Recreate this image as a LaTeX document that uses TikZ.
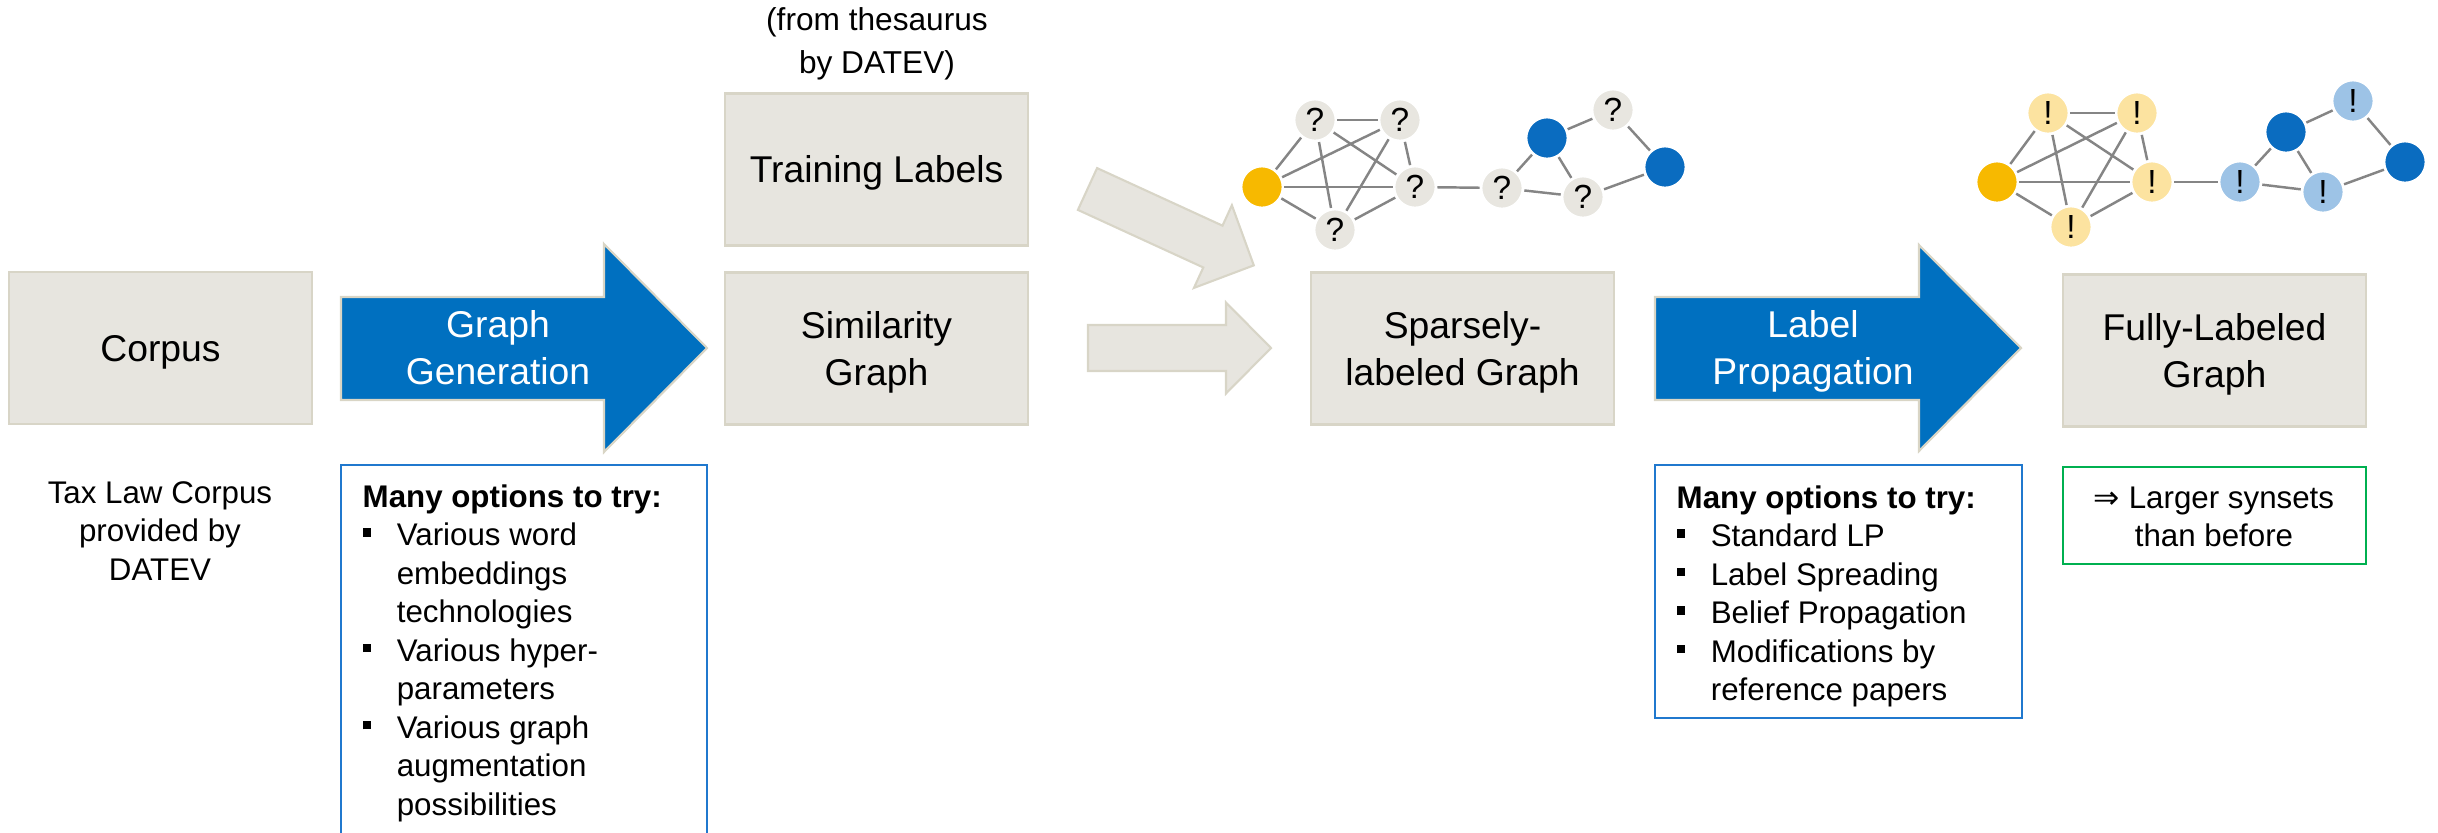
\documentclass[tikz,border=0pt]{standalone}
\usepackage{fontspec}
\setmainfont{Liberation Sans}
\newfontfamily\symfont{DejaVu Sans}

\definecolor{boxfill}{HTML}{E7E5DF}
\definecolor{boxline}{HTML}{D8D5C7}
\definecolor{flowblue}{HTML}{0070C0}
\definecolor{arrowrim}{HTML}{D9D5C5}
\definecolor{optblue}{HTML}{2078CE}
\definecolor{notegreen}{HTML}{00B050}
\definecolor{edgegray}{HTML}{858585}
\definecolor{unkgray}{HTML}{E8E6E0}
\definecolor{seedgold}{HTML}{F7B900}
\definecolor{seedblue}{HTML}{0A6CC0}
\definecolor{paleyellow}{HTML}{FCE3A0}
\definecolor{paleblue}{HTML}{9DC3E6}

\newcommand\labelfont{\fontsize{10.6}{13.3}\selectfont}
\newcommand\bodyfont{\fontsize{8.9}{10.95}\selectfont}
\newcommand\bul{\makebox[9.7pt][l]{\rule[2.5pt]{2.4pt}{2.4pt}}}
\newcommand\ind{\hspace*{9.7pt}}
\newcommand\twolines[2]{\begin{tabular}[t]{@{}c@{}}#1\\#2\end{tabular}}

\begin{document}
\begin{tikzpicture}[x=0.01cm, y=-0.01cm,
  graybox/.style={draw=boxline, fill=boxfill, line width=0.7pt,
    minimum width=3.03cm, minimum height=1.52cm, inner sep=0pt,
    font=\labelfont, text height=7.6pt, text depth=0pt},
  twoline/.style={text depth=13.3pt},
  flowtext/.style={font=\labelfont, text=white, inner sep=0pt,
    text height=7.6pt, text depth=13.3pt},
  bluearrow/.style={fill=flowblue, draw=arrowrim, line width=0.6pt},
  grayarrow/.style={fill=boxfill, draw=boxline, line width=0.6pt},
  optbox/.style={draw=optblue, line width=0.6pt},
  notebox/.style={draw=notegreen, line width=0.6pt},
  textblock/.style={inner sep=0pt, font=\bodyfont},
  vertex/.style={circle, minimum size=0.42cm, inner sep=0pt, draw=white,
    line width=0.8pt, font=\fontsize{9.5}{10}\selectfont},
  unk/.style={vertex, fill=unkgray},
  seed/.style={vertex, fill=seedgold},
  known/.style={vertex, fill=seedblue},
  gotyel/.style={vertex, fill=paleyellow},
  gotblu/.style={vertex, fill=paleblue},
  link/.style={draw=edgegray, line width=0.7pt}
]
\useasboundingbox (0,0) rectangle (2438,833);

% ---------- pipeline boxes ----------
\node[graybox] (corpus) at (160.5,348) {Corpus};
\node[graybox] (train) at (876.5,169.5) {Training Labels};
\node[graybox, twoline] (simgraph) at (876.5,348.5) {\twolines{Similarity}{Graph}};
\node[graybox, twoline] (sparse) at (1462.5,348.5) {\twolines{Sparsely-}{labeled Graph}};
\node[graybox, twoline] (full) at (2214.5,350.5) {\twolines{Fully-Labeled}{Graph}};

\node[inner sep=0pt, anchor=base, font=\fontsize{9}{12.3}\selectfont] (thes) at (877,30)
  {\begin{tabular}[t]{@{}c@{}}(from thesaurus\\by DATEV)\end{tabular}};

% ---------- process arrows ----------
\path[bluearrow] (341,297) -- (604,297) -- (604,244) -- (707,348)
  -- (604,452) -- (604,400) -- (341,400) -- cycle;
\node[flowtext] (gen) at (498,348) {\twolines{Graph}{Generation}};

\path[bluearrow] (1655,297) -- (1919,297) -- (1919,245) -- (2021,348)
  -- (1919,451) -- (1919,400) -- (1655,400) -- cycle;
\node[flowtext] (prop) at (1813,348) {\twolines{Label}{Propagation}};

% inputs merging into the sparsely labeled graph
\begin{scope}[shift={(1087.5,189)}, rotate=-24.66]
  \path[grayarrow] (0,-23) -- (138,-23) -- (138,-45.5) -- (183,0)
    -- (138,45.5) -- (138,23) -- (0,23) -- cycle;
\end{scope}
\begin{scope}[shift={(1088,348)}]
  \path[grayarrow] (0,-23) -- (138,-23) -- (138,-45.5) -- (183,0)
    -- (138,45.5) -- (138,23) -- (0,23) -- cycle;
\end{scope}

% ---------- notes below ----------
\node[textblock, anchor=base] (taxlaw) at (160,503)
  {\begin{tabular}[t]{@{}c@{}}Tax Law Corpus\\provided by\\DATEV\end{tabular}};

\draw[optbox] (341,840) -- (341,465) -- (707,465) -- (707,840);
\node[textblock, anchor=base west] (genopts) at (362,507)
  {\begin{tabular}[t]{@{}l@{}}
   \textbf{Many options to try:}\\
   \bul Various word\\
   \ind embeddings\\
   \ind technologies\\
   \bul Various hyper-\\
   \ind parameters\\
   \bul Various graph\\
   \ind augmentation\\
   \ind possibilities
   \end{tabular}};

\draw[optbox] (1655,465) rectangle (2022,718);
\node[textblock, anchor=base west] (propopts) at (1676,508)
  {\begin{tabular}[t]{@{}l@{}}
   \textbf{Many options to try:}\\
   \bul Standard LP\\
   \bul Label Spreading\\
   \bul Belief Propagation\\
   \bul Modifications by\\
   \ind reference papers
   \end{tabular}};

\draw[notebox] (2063,467) rectangle (2366,564);
\node[textblock, anchor=base] (result) at (2214,508)
  {\begin{tabular}[t]{@{}c@{}}{\symfont ⇒} Larger synsets\\than before\end{tabular}};

% ---------- sparsely labeled graph ----------
\node[seed]  (ay)  at (1262,187) {};
\node[unk]   (a1)  at (1315,120) {?};
\node[unk]   (a2)  at (1400,120) {?};
\node[unk]   (a3)  at (1415,187) {?};
\node[unk]   (a4)  at (1335,230) {?};
\node[unk]   (a5)  at (1502,188) {?};
\node[known] (ab1) at (1547,138) {};
\node[unk]   (a6)  at (1613,110) {?};
\node[known] (ab2) at (1665,167) {};
\node[unk]   (a7)  at (1583,197) {?};

% ---------- fully labeled graph ----------
\node[seed]   (by)  at (1997,182) {};
\node[gotyel] (b1)  at (2048,113) {!};
\node[gotyel] (b2)  at (2137,113) {!};
\node[gotyel] (b3)  at (2152,182) {!};
\node[gotyel] (b4)  at (2071,227) {!};
\node[gotblu] (b5)  at (2240,182) {!};
\node[known]  (bb1) at (2286,132) {};
\node[gotblu] (b6)  at (2353,101) {!};
\node[known]  (bb2) at (2405,162) {};
\node[gotblu] (b7)  at (2323,192) {!};

\foreach \g in {a,b} {
  \foreach \u/\v in {y/1,y/2,y/3,y/4,1/2,1/3,1/4,2/3,2/4,3/4,3/5,5/b1,5/7,b1/6,b1/7,6/b2,7/b2}
    \draw[link] (\g\u) -- (\g\v);
}
\end{tikzpicture}
\end{document}
